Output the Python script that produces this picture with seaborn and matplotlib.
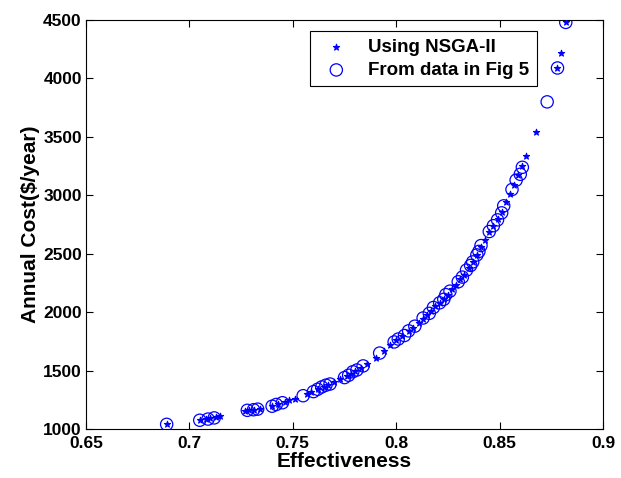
import matplotlib
matplotlib.use("Agg")
import matplotlib.pyplot as plt
import seaborn as sns
import pandas as pd

# Pareto front obtained with NSGA-II
eff_nsga = [0.689, 0.705, 0.708, 0.710, 0.713, 0.715, 0.727, 0.729, 0.731, 0.734,
            0.740, 0.743, 0.746, 0.748, 0.751, 0.757, 0.759, 0.762, 0.765, 0.767,
            0.770, 0.773, 0.776, 0.778, 0.780, 0.783, 0.786, 0.790, 0.794, 0.797,
            0.800, 0.803, 0.806, 0.808, 0.811, 0.813, 0.815, 0.817, 0.819, 0.821,
            0.823, 0.825, 0.827, 0.829, 0.831, 0.833, 0.835, 0.837, 0.839, 0.841,
            0.843, 0.845, 0.847, 0.849, 0.851, 0.853, 0.855, 0.857, 0.859, 0.861,
            0.863, 0.8675, 0.878, 0.8795, 0.882]
cost_nsga = [1040, 1075, 1085, 1090, 1100, 1110, 1150, 1160, 1165, 1175,
             1200, 1215, 1230, 1245, 1260, 1300, 1315, 1340, 1360, 1375,
             1400, 1425, 1450, 1475, 1495, 1525, 1560, 1610, 1670, 1715,
             1760, 1795, 1840, 1865, 1905, 1945, 1975, 2010, 2050, 2080,
             2115, 2150, 2195, 2235, 2280, 2320, 2380, 2430, 2490, 2560,
             2620, 2690, 2740, 2800, 2860, 2940, 3010, 3090, 3170, 3250,
             3340, 3540, 4090, 4215, 4480]

# Points taken from the data in Fig 5
eff_fig5 = [0.689, 0.705, 0.709, 0.712, 0.728, 0.731, 0.733, 0.740, 0.742, 0.745,
            0.755, 0.760, 0.762, 0.764, 0.766, 0.768, 0.775, 0.777, 0.779, 0.781,
            0.784, 0.792, 0.799, 0.801, 0.804, 0.806, 0.809, 0.813, 0.816, 0.818,
            0.821, 0.823, 0.824, 0.826, 0.830, 0.832, 0.834, 0.836, 0.837, 0.839,
            0.840, 0.841, 0.845, 0.847, 0.849, 0.851, 0.852, 0.856, 0.858, 0.860,
            0.861, 0.873, 0.878, 0.882]
cost_fig5 = [1040, 1075, 1085, 1095, 1160, 1165, 1170, 1195, 1210, 1225,
             1285, 1320, 1340, 1360, 1375, 1385, 1440, 1460, 1490, 1505,
             1540, 1650, 1745, 1770, 1800, 1840, 1880, 1950, 1990, 2040,
             2080, 2110, 2150, 2180, 2260, 2300, 2360, 2400, 2430, 2490,
             2520, 2570, 2690, 2740, 2790, 2850, 2910, 3050, 3130, 3180,
             3240, 3800, 4090, 4480]

x_ticks = [0.65, 0.7, 0.75, 0.8, 0.85, 0.9]
x_tick_labels = ["0.65", "0.7", "0.75", "0.8", "0.85", "0.9"]
y_ticks = [1000, 1500, 2000, 2500, 3000, 3500, 4000, 4500]

sns.set_style("white")
plt.rcParams["font.family"] = ["Liberation Sans", "DejaVu Sans"]
plt.rcParams["text.color"] = "black"
plt.rcParams["axes.labelcolor"] = "black"

nsga_df = pd.DataFrame({"Effectiveness": eff_nsga, "Cost": cost_nsga})
fig5_df = pd.DataFrame({"Effectiveness": eff_fig5, "Cost": cost_fig5})

fig = plt.figure(figsize=(6.21, 4.78), dpi=100)
ax = fig.add_axes([0.1385, 0.1025, 0.8325, 0.8555])

blue = "#0000ff"
sns.scatterplot(data=nsga_df, x="Effectiveness", y="Cost", ax=ax,
                marker="*", s=22, color=blue, edgecolor=blue, linewidth=0.8,
                label="Using NSGA-II", zorder=3)
sns.scatterplot(data=fig5_df, x="Effectiveness", y="Cost", ax=ax,
                marker="o", s=78, facecolor="none", edgecolor=blue, linewidth=0.9,
                label="From data in Fig 5", zorder=2)

ax.set_xlim(0.65, 0.9)
ax.set_ylim(1000, 4500)
ax.set_xticks(x_ticks)
ax.set_xticklabels(x_tick_labels)
ax.set_yticks(y_ticks)

for spine in ax.spines.values():
    spine.set_visible(True)
    spine.set_color("black")
    spine.set_linewidth(0.8)

ax.tick_params(direction="in", length=5, width=0.8, top=True, right=True,
               bottom=True, left=True, labelsize=12.5, colors="black")
ax.tick_params(axis="x", pad=5)
ax.tick_params(axis="y", pad=3)
for lbl in ax.get_xticklabels() + ax.get_yticklabels():
    lbl.set_fontweight("bold")

ax.set_xlabel("Effectiveness", fontsize=15, fontweight="bold", labelpad=1)
ax.set_ylabel("Annual Cost($/year)", fontsize=15, fontweight="bold", labelpad=2)

leg = ax.legend(loc="upper right", bbox_to_anchor=(0.872, 0.973), frameon=True,
                fancybox=False, shadow=False, fontsize=13.5, borderpad=0.4,
                handletextpad=0.7, borderaxespad=0, labelspacing=0.32,
                handlelength=2.0)
frame = leg.get_frame()
frame.set_edgecolor("black")
frame.set_linewidth(0.8)
frame.set_facecolor("white")
frame.set_alpha(1)
for txt in leg.get_texts():
    txt.set_fontweight("bold")
    txt.set_color("black")

fig.savefig("out.png", dpi=100, facecolor="white")
